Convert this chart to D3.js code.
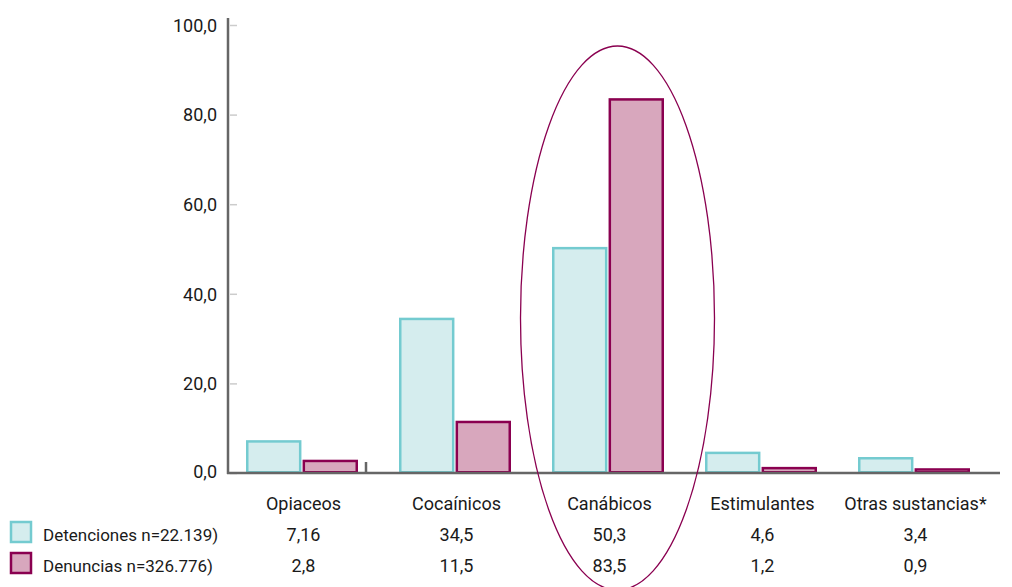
<!DOCTYPE html>
<html>
<head>
<meta charset="utf-8">
<script src="https://cdn.jsdelivr.net/npm/d3@7"></script>
<style>
  body { margin: 0; background: #fff; }
  text { font-family: Roboto, "Open Sans", sans-serif; font-size: 18px; fill: #1a1a1a; }
  text.legend { font-size: 17px; }
</style>
</head>
<body>
<svg id="chart" width="1012" height="587"></svg>
<script>
var categories = ['Opiaceos', 'Cocaínicos', 'Canábicos', 'Estimulantes', 'Otras sustancias*'];
var seriesNames = ['Detenciones n=22.139)', 'Denuncias n=326.776)'];
var detenciones = [7.16, 34.5, 50.3, 4.6, 3.4];
var denuncias = [2.8, 11.5, 83.5, 1.2, 0.9];
var yTicks = [0, 20, 40, 60, 80, 100];

var fills = ['#d5edee', '#d8a7bd'];
var strokes = ['#74cbd0', '#8a0050'];

var svg = d3.select('#chart');

var x = d3.scaleBand()
  .domain(categories)
  .range([228, 993]);

var sub = d3.scaleBand()
  .domain([0, 1])
  .range([18, x.bandwidth() - 23])
  .paddingInner(0.02);

var y = d3.scaleLinear()
  .domain([0, 100])
  .range([473.5, 25.5]);

var fmt = function(v) {
  return String(v).replace('.', ',');
};

// y axis
svg.append('line')
  .attr('x1', 228).attr('x2', 228)
  .attr('y1', 18).attr('y2', 474)
  .attr('stroke', '#666').attr('stroke-width', 2.5);

var ticks = svg.selectAll('g.ytick')
  .data(yTicks)
  .enter()
  .append('g')
  .attr('class', 'ytick');

ticks.append('line')
  .attr('x1', 230).attr('x2', 237)
  .attr('y1', function(d) { return y(d); })
  .attr('y2', function(d) { return y(d); })
  .attr('stroke', '#ccc').attr('stroke-width', 1.5);

ticks.append('text')
  .attr('x', 217)
  .attr('y', function(d) { return d === 0 ? 472 : y(d); })
  .attr('dy', '0.35em')
  .attr('text-anchor', 'end')
  .text(function(d) { return d.toFixed(1).replace('.', ','); });

// bars
var data = categories.map(function(c, i) {
  return { cat: c, vals: [detenciones[i], denuncias[i]] };
});

var groups = svg.selectAll('g.cat')
  .data(data)
  .enter()
  .append('g')
  .attr('class', 'cat')
  .attr('transform', function(d) { return 'translate(' + x(d.cat) + ',0)'; });

groups.selectAll('rect')
  .data(function(d) { return d.vals; })
  .enter()
  .append('rect')
  .attr('x', function(d, i) { return sub(i) + 1.25; })
  .attr('width', sub.bandwidth() - 2.5)
  .attr('y', function(d) { return y(d); })
  .attr('height', function(d) { return Math.max(y(0) - y(d) - 1.25, 1); })
  .attr('fill', function(d, i) { return fills[i]; })
  .attr('stroke', function(d, i) { return strokes[i]; })
  .attr('stroke-width', 2.5);

// x axis
svg.append('line')
  .attr('x1', 227).attr('x2', 1000)
  .attr('y1', 473).attr('y2', 473)
  .attr('stroke', '#666').attr('stroke-width', 2.5);

svg.append('line')
  .attr('x1', 366).attr('x2', 366)
  .attr('y1', 462).attr('y2', 473)
  .attr('stroke', '#666').attr('stroke-width', 2.5);

// table of labels
var cx = function(c) { return x(c) + x.bandwidth() / 2 - 1; };

svg.selectAll('text.cat')
  .data(categories)
  .enter()
  .append('text')
  .attr('class', 'cat')
  .attr('x', cx)
  .attr('y', 510)
  .attr('text-anchor', 'middle')
  .text(function(d) { return d; });

[detenciones, denuncias].forEach(function(vals, r) {
  var rowY = 541 + r * 31;
  svg.append('rect')
    .attr('x', 11).attr('y', rowY - 19)
    .attr('width', 20).attr('height', 20)
    .attr('fill', fills[r])
    .attr('stroke', strokes[r])
    .attr('stroke-width', 2.5);
  svg.append('text')
    .attr('class', 'legend')
    .attr('x', 43).attr('y', rowY)
    .text(seriesNames[r]);
  svg.selectAll('text.row' + r)
    .data(vals)
    .enter()
    .append('text')
    .attr('class', 'row' + r)
    .attr('x', function(d, i) { return cx(categories[i]); })
    .attr('y', rowY)
    .attr('text-anchor', 'middle')
    .text(fmt);
});

// highlight ellipse round Canábicos
svg.append('ellipse')
  .attr('cx', x('Canábicos') + x.bandwidth() / 2 + 7)
  .attr('cy', 318)
  .attr('rx', 97)
  .attr('ry', 272)
  .attr('fill', 'none')
  .attr('stroke', '#8a0050')
  .attr('stroke-width', 1.3);
</script>
</body>
</html>
